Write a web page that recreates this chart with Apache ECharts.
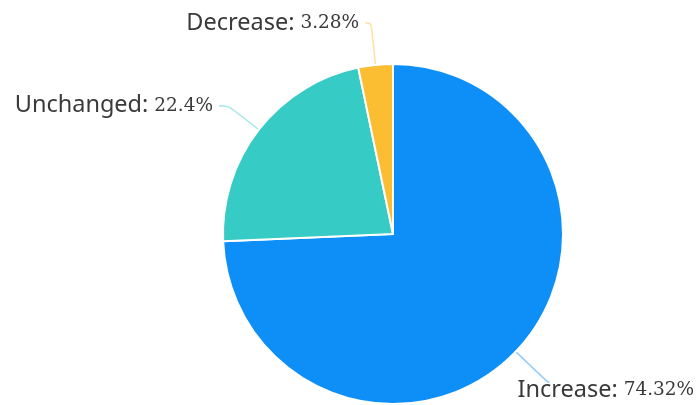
<!DOCTYPE html>
<html>
<head>
<meta charset="utf-8">
<script src="https://cdn.jsdelivr.net/npm/echarts@6/dist/echarts.min.js"></script>
<style>
  html, body { margin: 0; padding: 0; background: #fff; }
  #chart { width: 697px; height: 405px; }
</style>
</head>
<body>
<div id="chart"></div>
<script>
// Share of responses by change direction (percent)
const categories = ['Increase', 'Unchanged', 'Decrease'];
const shares = [74.32, 22.4, 3.28];
const palette = ['#0d8ff7', '#36cbc4', '#fbbd32'];
// leader line lengths per slice: [radial, horizontal]
const leaderLengths = [[44, 2], [39, 9], [42, 6]];

const chart = echarts.init(document.getElementById('chart'));

chart.setOption({
  animation: false,
  color: palette,
  series: [{
    type: 'pie',
    center: [393, 234],
    radius: 170,
    startAngle: 90,
    clockwise: true,
    avoidLabelOverlap: false,
    data: categories.map((name, i) => ({
      name,
      value: shares[i],
      labelLine: { length: leaderLengths[i][0], length2: leaderLengths[i][1] }
    })),
    itemStyle: { borderColor: '#ffffff', borderWidth: 2 },
    label: {
      overflow: 'none',
      distanceToLabelLine: 6,
      formatter: p => '{n|' + p.name + ':}{v| ' + p.value + '%}',
      rich: {
        n: { fontFamily: 'Noto Sans', fontSize: 23.5, color: '#3a3a3a' },
        v: { fontFamily: 'DejaVu Serif', fontSize: 18.5, color: '#3a3a3a' }
      }
    },
    labelLine: {
      show: true,
      smooth: 0.35,
      lineStyle: { width: 1.5, opacity: 0.45 }
    },
    // the bottom-right label sits tucked under the end of its leader line
    labelLayout: p => p.dataIndex === 0 ? { dx: -38, dy: 8 } : {}
  }]
});
</script>
</body>
</html>
